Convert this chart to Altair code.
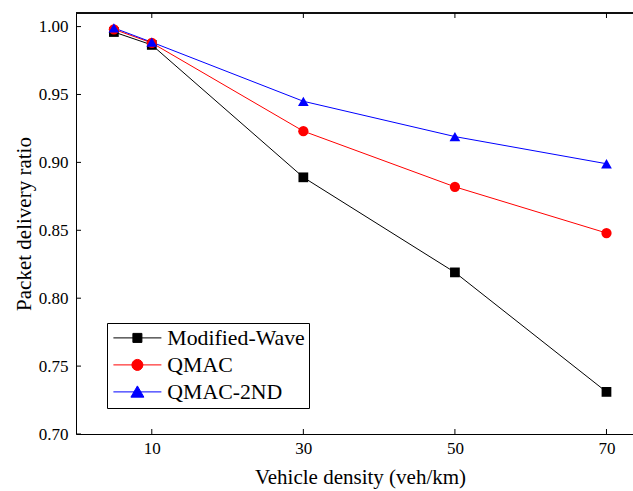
import altair as alt
import pandas as pd

# ---- data ----
density = [5, 10, 30, 50, 70]
modified_wave = [0.996, 0.9865, 0.889, 0.819, 0.731]
qmac = [0.998, 0.988, 0.923, 0.882, 0.848]
qmac_2nd = [0.999, 0.9885, 0.945, 0.919, 0.899]

series_names = ["Modified-Wave", "QMAC", "QMAC-2ND"]
series_colors = ["#000000", "#ff0000", "#0000ff"]
x_ticks = [10, 30, 50, 70]
y_ticks = [0.70, 0.75, 0.80, 0.85, 0.90, 0.95, 1.00]

rows = []
for name, vals in zip(series_names, [modified_wave, qmac, qmac_2nd]):
    for i, (d, v) in enumerate(zip(density, vals)):
        rows.append({"density": d, "ratio": v, "series": name, "order": i})
df = pd.DataFrame(rows)
xt = pd.DataFrame({"v": x_ticks})
yt = pd.DataFrame({"v": y_ticks})

W, H = 557, 421
FONT = "Liberation Serif"

xscale = alt.Scale(domain=[0, 73.5], nice=False, zero=False)
yscale = alt.Scale(domain=[0.70, 1.01], nice=False, zero=False)

X = alt.X("density:Q", scale=xscale,
          axis=alt.Axis(values=x_ticks, title="Vehicle density (veh/km)", ticks=False, tickSize=0,
                        labelFontSize=17, labelFont=FONT, labelBaseline="alphabetic", labelPadding=19,
                        titleFont=FONT, titleFontSize=21, titleFontWeight="normal",
                        titleX=284, titleY=49, titleBaseline="alphabetic", titleAnchor="middle",
                        grid=False, domainColor="black", domainWidth=1, labelColor="black",
                        titleColor="black", labelFlush=False))
Y = alt.Y("ratio:Q", scale=yscale,
          axis=alt.Axis(values=y_ticks, format=".2f", title="Packet delivery ratio", ticks=False, tickSize=0,
                        labelFontSize=17, labelFont=FONT, labelPadding=8,
                        titleFont=FONT, titleFontSize=21, titleFontWeight="normal", titlePadding=4,
                        grid=False, domainColor="black", domainWidth=1, labelColor="black",
                        titleColor="black", labelFlush=False))

color_scale = alt.Scale(domain=series_names, range=series_colors)

base = alt.Chart(df)

lines = base.mark_line(strokeWidth=1).encode(
    x=X, y=Y,
    color=alt.Color("series:N", scale=color_scale, legend=None),
    order="order:Q",
)

points = base.mark_point(filled=True, opacity=1).encode(
    x=X, y=Y,
    color=alt.Color("series:N", scale=color_scale, legend=None),
    shape=alt.Shape("series:N", scale=alt.Scale(domain=series_names,
                                                range=["square", "circle", "triangle-up"]), legend=None),
    size=alt.Size("series:N", scale=alt.Scale(domain=series_names, range=[95, 115, 190]), legend=None),
)

legend_paths = [
    "M-4.8,0H4.8M-0.9,-0.9H0.9V0.9H-0.9Z",
    "M-4.8,0H4.8M1.1,0A1.1,1.1,0,1,1,-1.1,0A1.1,1.1,0,1,1,1.1,0Z",
    "M-4.8,0H4.8M0,-1.2L1.3,1.05H-1.3Z",
]

leg = alt.Legend(title=None, orient="none", legendX=31, legendY=310,
                 labelFont=FONT, labelFontSize=21.8, labelColor="black",
                 strokeColor="black", fillColor="white", padding=4, rowPadding=4,
                 symbolSize=100, symbolStrokeWidth=1, symbolOpacity=1,
                 symbolOffset=15.5, labelOffset=19, cornerRadius=0)

legend_layer = base.transform_filter("datum.density < 0").mark_point(filled=True).encode(
    x=X, y=Y,
    fill=alt.Fill("series:N", scale=alt.Scale(domain=series_names, range=series_colors), legend=leg),
    stroke=alt.Stroke("series:N", scale=alt.Scale(domain=series_names, range=series_colors), legend=leg),
    shape=alt.Shape("series:N", scale=alt.Scale(domain=series_names, range=legend_paths), legend=leg),
)

tick_len = 5
bottom_ticks = alt.Chart(xt).mark_rule(color="black", strokeWidth=1).encode(
    x=alt.X("v:Q", scale=xscale), y=alt.value(H), y2=alt.value(H - tick_len))
top_ticks = alt.Chart(xt).mark_rule(color="black", strokeWidth=1).encode(
    x=alt.X("v:Q", scale=xscale), y=alt.value(0), y2=alt.value(tick_len))
left_ticks = alt.Chart(yt).mark_rule(color="black", strokeWidth=1).encode(
    y=alt.Y("v:Q", scale=yscale), x=alt.value(0), x2=alt.value(tick_len))
top_border = alt.Chart(xt).mark_rule(color="black", strokeWidth=1).encode(
    x=alt.value(0), x2=alt.value(W), y=alt.value(0))

chart = alt.layer(
    lines, points, legend_layer, bottom_ticks, top_ticks, left_ticks, top_border
).resolve_scale(
    shape="independent", fill="independent", stroke="independent"
).properties(
    width=W, height=H,
    autosize=alt.AutoSizeParams(type="none"),
    padding={"left": 76, "top": 13, "right": 0, "bottom": 57},
    background="white",
).configure_view(stroke=None)

chart.save("out.html", embed_options={"renderer": "svg", "actions": False})
